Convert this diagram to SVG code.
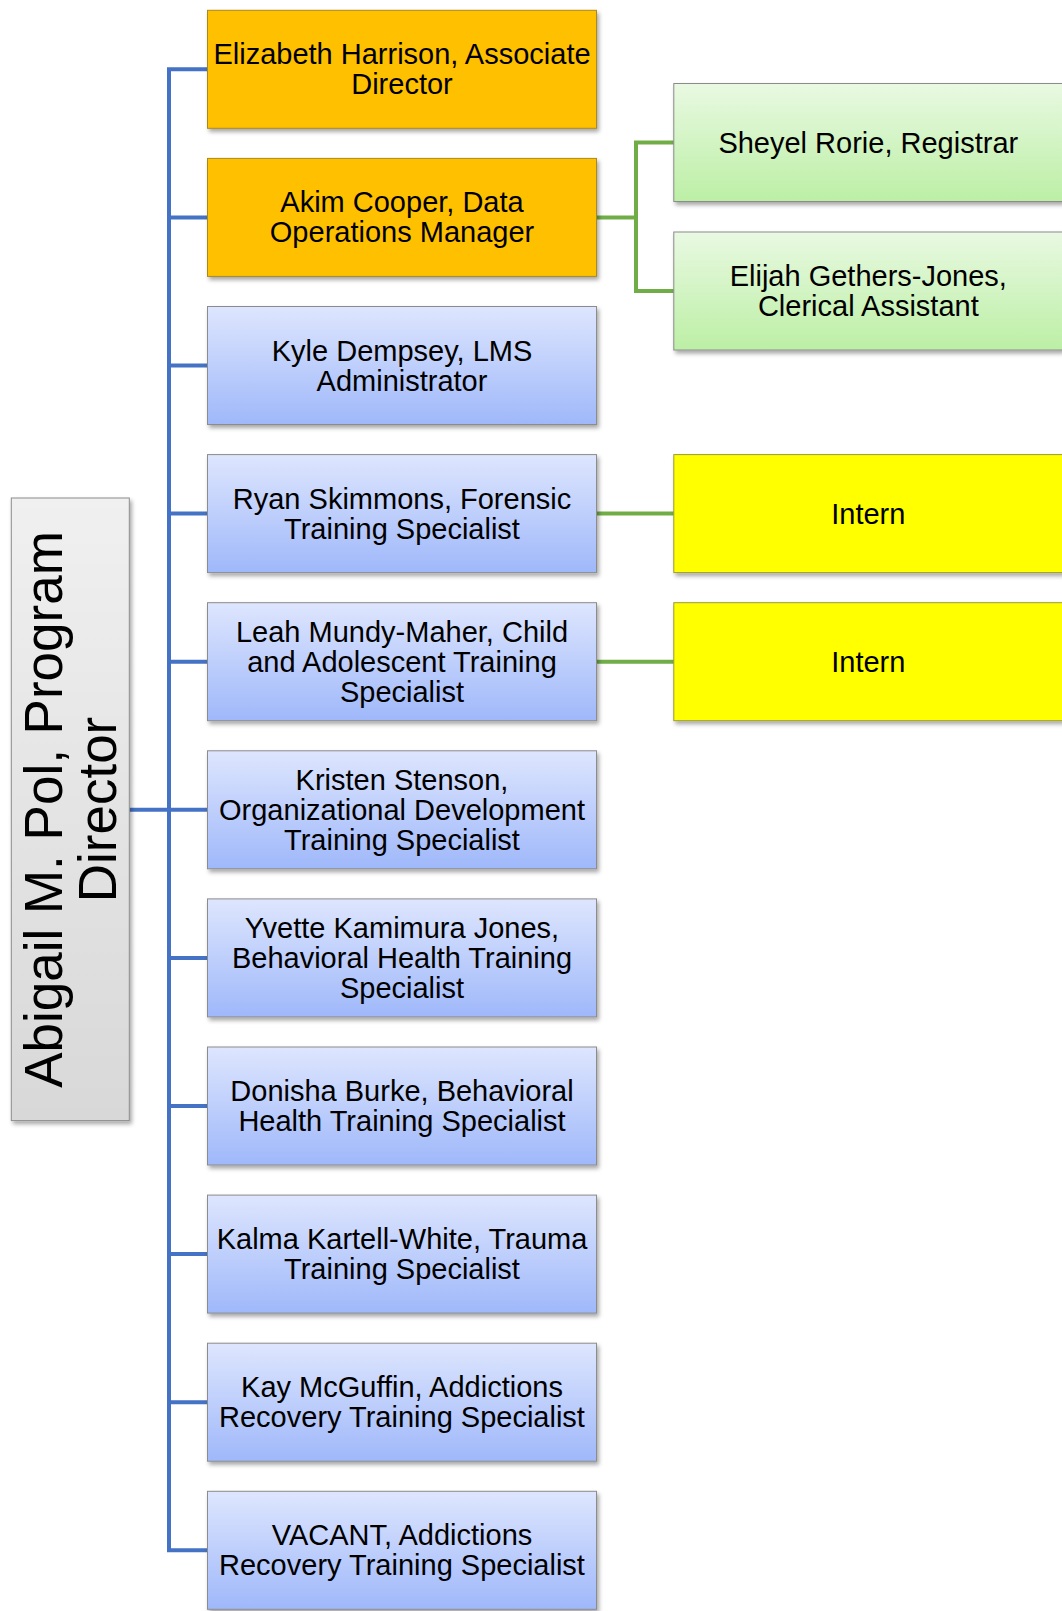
<svg xmlns="http://www.w3.org/2000/svg" width="1062" height="1611" viewBox="0 0 1062 1611">
<defs>
<linearGradient id="gBlue" x1="0" y1="0" x2="0" y2="1"><stop offset="0" stop-color="#dee6fe"/><stop offset="1" stop-color="#9fb8fa"/></linearGradient>
<linearGradient id="gGreen" x1="0" y1="0" x2="0" y2="1"><stop offset="0" stop-color="#e9f9e2"/><stop offset="1" stop-color="#bcefa5"/></linearGradient>
<linearGradient id="gGray" x1="0" y1="0" x2="0" y2="1"><stop offset="0" stop-color="#f0f0f0"/><stop offset="1" stop-color="#d8d8d8"/></linearGradient>
<filter id="sh" x="-5%" y="-5%" width="115%" height="120%"><feDropShadow dx="2" dy="3" stdDeviation="2" flood-color="#000" flood-opacity="0.35"/></filter>
<style>
.t{font-family:"Liberation Sans",Arial,sans-serif;font-size:29px;fill:#000;text-anchor:middle}
.r{font-family:"Liberation Sans",Arial,sans-serif;font-size:53px;fill:#000;text-anchor:middle}
.blue{fill:url(#gBlue);stroke:#8c8c8c;stroke-width:1;filter:url(#sh)}
.orange{fill:#ffc000;stroke:#a88a1e;stroke-width:1;filter:url(#sh)}
.green{fill:url(#gGreen);stroke:#8c8c8c;stroke-width:1;filter:url(#sh)}
.yellow{fill:#ffff00;stroke:#9a9a3a;stroke-width:1;filter:url(#sh)}
.gray{fill:url(#gGray);stroke:#8c8c8c;stroke-width:1;filter:url(#sh)}
.cb{fill:none;stroke:#4472c4;stroke-width:4}
.cg{fill:none;stroke:#70ad47;stroke-width:4}
</style>
</defs>
<rect width="1062" height="1611" fill="#fff"/>
<g id="connectors">
<path class="cb" d="M207.5,69.3 H169 V1550.3 H207.5"/>
<path class="cb" d="M129.4,809.8 H207.5"/>
<path class="cb" d="M169,217.4 H207.5 M169,365.5 H207.5 M169,513.6 H207.5 M169,661.7 H207.5 M169,957.9 H207.5 M169,1106 H207.5 M169,1254.1 H207.5 M169,1402.2 H207.5"/>
<path class="cg" d="M596.7,217.4 H636"/>
<path class="cg" d="M673.8,142.5 H636 V291 H673.8"/>
<path class="cg" d="M596.7,513.6 H673.8 M596.7,661.7 H673.8"/>
</g>
<g id="root">
<rect class="gray" x="11.3" y="498" width="118" height="622.6"/>
<g transform="translate(70.3,809.5) rotate(-90)">
<text class="r" x="0" y="-8.5">Abigail M. Pol, Program</text>
<text class="r" x="0" y="45.5">Director</text>
</g>
</g>
<g id="n0"><rect class="orange" x="207.5" y="10.3" width="389" height="118"/><text class="t" x="402" y="64.3">Elizabeth Harrison, Associate</text><text class="t" x="402" y="94.3">Director</text></g>
<g id="n1"><rect class="orange" x="207.5" y="158.4" width="389" height="118"/><text class="t" x="402" y="212.4">Akim Cooper, Data</text><text class="t" x="402" y="242.4">Operations Manager</text></g>
<g id="n2"><rect class="blue" x="207.5" y="306.5" width="389" height="118"/><text class="t" x="402" y="360.5">Kyle Dempsey, LMS</text><text class="t" x="402" y="390.5">Administrator</text></g>
<g id="n3"><rect class="blue" x="207.5" y="454.6" width="389" height="118"/><text class="t" x="402" y="508.6">Ryan Skimmons, Forensic</text><text class="t" x="402" y="538.6">Training Specialist</text></g>
<g id="n4"><rect class="blue" x="207.5" y="602.7" width="389" height="118"/><text class="t" x="402" y="642">Leah Mundy-Maher, Child</text><text class="t" x="402" y="672">and Adolescent Training</text><text class="t" x="402" y="702">Specialist</text></g>
<g id="n5"><rect class="blue" x="207.5" y="750.8" width="389" height="118"/><text class="t" x="402" y="790.1">Kristen Stenson,</text><text class="t" x="402" y="820.1">Organizational Development</text><text class="t" x="402" y="850.1">Training Specialist</text></g>
<g id="n6"><rect class="blue" x="207.5" y="898.9" width="389" height="118"/><text class="t" x="402" y="938.2">Yvette Kamimura Jones,</text><text class="t" x="402" y="968.2">Behavioral Health Training</text><text class="t" x="402" y="998.2">Specialist</text></g>
<g id="n7"><rect class="blue" x="207.5" y="1047" width="389" height="118"/><text class="t" x="402" y="1101">Donisha Burke, Behavioral</text><text class="t" x="402" y="1131">Health Training Specialist</text></g>
<g id="n8"><rect class="blue" x="207.5" y="1195.1" width="389" height="118"/><text class="t" x="402" y="1249.1">Kalma Kartell-White, Trauma</text><text class="t" x="402" y="1279.1">Training Specialist</text></g>
<g id="n9"><rect class="blue" x="207.5" y="1343.2" width="389" height="118"/><text class="t" x="402" y="1397.2">Kay McGuffin, Addictions</text><text class="t" x="402" y="1427.2">Recovery Training Specialist</text></g>
<g id="n10"><rect class="blue" x="207.5" y="1491.3" width="389" height="118"/><text class="t" x="402" y="1545.3">VACANT, Addictions</text><text class="t" x="402" y="1575.3">Recovery Training Specialist</text></g>
<g id="g1"><rect class="green" x="673.8" y="83.5" width="389" height="118"/><text class="t" x="868.3" y="152.5">Sheyel Rorie, Registrar</text></g>
<g id="g2"><rect class="green" x="673.8" y="232" width="389" height="118"/><text class="t" x="868.3" y="286">Elijah Gethers-Jones,</text><text class="t" x="868.3" y="316">Clerical Assistant</text></g>
<g id="i1"><rect class="yellow" x="673.8" y="454.6" width="389" height="118"/><text class="t" x="868.3" y="523.6">Intern</text></g>
<g id="i2"><rect class="yellow" x="673.8" y="602.7" width="389" height="118"/><text class="t" x="868.3" y="671.7">Intern</text></g>
</svg>
